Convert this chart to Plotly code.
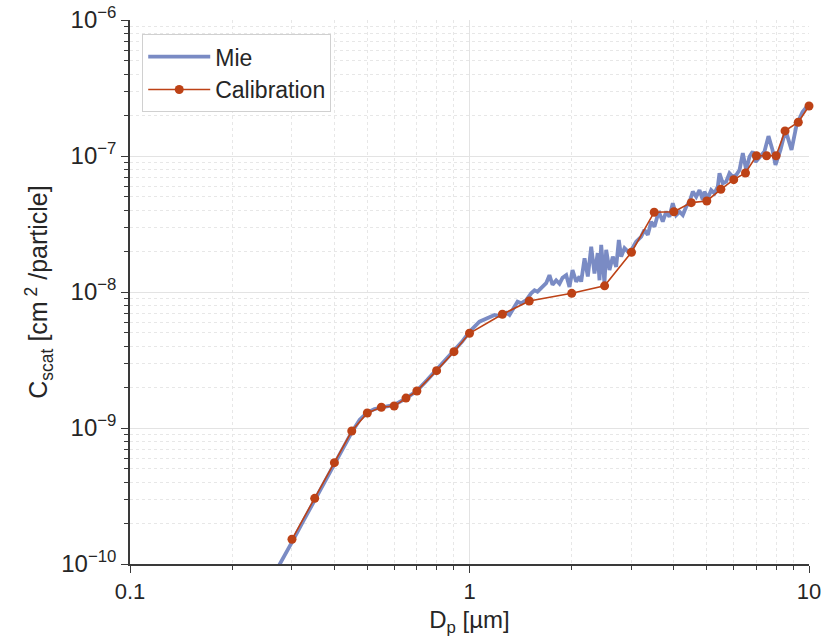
import plotly.graph_objects as go

# ---- Data ----
mie_d = [0.26, 0.28, 0.30, 0.325, 0.35, 0.375, 0.40, 0.425, 0.45, 0.475, 0.50, 0.525,
         0.55, 0.575, 0.60, 0.65, 0.70, 0.75, 0.80, 0.85, 0.90, 0.95, 1.00,
         1.070, 1.145, 1.185, 1.226, 1.282, 1.311, 1.357, 1.385, 1.420, 1.469, 1.519,
         1.554, 1.586, 1.641, 1.682, 1.720, 1.756, 1.800, 1.841, 1.879, 1.927, 1.970,
         2.011, 2.062, 2.109, 2.133, 2.182, 2.231, 2.283, 2.334, 2.386, 2.415, 2.443,
         2.498, 2.527, 2.584, 2.643, 2.704, 2.753, 2.798, 2.861, 2.960, 3.027, 3.097,
         3.204, 3.277, 3.351, 3.429, 3.506, 3.585, 3.627, 3.709, 3.795, 3.881, 3.970,
         4.062, 4.155, 4.249, 4.348, 4.446, 4.547, 4.653, 4.759, 4.866, 4.922, 5.034,
         5.151, 5.268, 5.386, 5.449, 5.573, 5.702, 5.833, 5.965, 6.104, 6.242, 6.383,
         6.531, 6.679, 6.830, 6.956, 7.147, 7.394, 7.597, 7.806, 7.967, 8.243, 8.528,
         8.882, 9.189, 9.570, 10.0]
mie_c = [7.6e-11, 1.05e-10, 1.45e-10, 2.1e-10, 2.95e-10, 4.0e-10, 5.4e-10, 7.1e-10,
         9.3e-10, 1.15e-9, 1.3e-9, 1.38e-9, 1.42e-9, 1.45e-9, 1.48e-9, 1.65e-9, 1.88e-9,
         2.25e-9, 2.7e-9, 3.2e-9, 3.7e-9, 4.3e-9, 5.1e-9,
         6.05e-9, 6.52e-9, 6.78e-9, 6.66e-9, 7.04e-9, 6.78e-9, 7.80e-9, 8.49e-9, 8.26e-9,
         8.73e-9, 9.78e-9, 1.03e-8, 1.005e-8, 1.09e-8, 1.16e-8, 1.33e-8, 1.13e-8, 1.22e-8,
         1.15e-8, 1.27e-8, 1.33e-8, 1.09e-8, 1.45e-8, 1.19e-8, 1.30e-8, 1.19e-8, 1.77e-8,
         1.30e-8, 2.15e-8, 1.37e-8, 1.93e-8, 1.22e-8, 2.22e-8, 1.16e-8, 2.04e-8, 1.45e-8,
         1.82e-8, 1.53e-8, 2.41e-8, 1.82e-8, 2.10e-8, 1.93e-8, 2.10e-8, 2.34e-8, 2.55e-8,
         2.86e-8, 2.63e-8, 3.29e-8, 3.02e-8, 3.68e-8, 3.79e-8, 3.29e-8, 3.89e-8, 3.58e-8,
         4.49e-8, 3.68e-8, 3.89e-8, 3.68e-8, 4.24e-8, 4.61e-8, 5.47e-8, 5.02e-8, 5.62e-8,
         4.75e-8, 5.47e-8, 4.89e-8, 5.62e-8, 5.32e-8, 5.95e-8, 7.46e-8, 6.30e-8, 6.47e-8,
         7.46e-8, 7.04e-8, 7.25e-8, 7.89e-8, 1.05e-7, 7.89e-8, 9.88e-8, 1.08e-7, 9.03e-8,
         9.83e-8, 1.08e-7, 1.40e-7, 1.11e-7, 8.59e-8, 1.11e-7, 1.55e-7, 1.11e-7, 1.69e-7,
         2.11e-7, 2.41e-7]

cal_d = [0.3, 0.35, 0.4, 0.45, 0.5, 0.55, 0.6, 0.65, 0.7, 0.8, 0.9, 1.0, 1.25, 1.5,
         2.0, 2.5, 3.0, 3.5, 4.0, 4.5, 5.0, 5.5, 6.0, 6.5, 7.0, 7.5, 8.0, 8.5, 9.3, 10.0]
cal_c = [1.52e-10, 3.04e-10, 5.56e-10, 9.5e-10, 1.29e-9, 1.42e-9, 1.45e-9, 1.66e-9,
         1.87e-9, 2.64e-9, 3.64e-9, 4.97e-9, 6.86e-9, 8.59e-9, 9.78e-9, 1.11e-8,
         1.96e-8, 3.86e-8, 3.89e-8, 4.54e-8, 4.67e-8, 5.69e-8, 6.70e-8, 7.50e-8,
         1.005e-7, 1.005e-7, 1.005e-7, 1.53e-7, 1.77e-7, 2.33e-7]

x_tickvals = [0.1, 1, 10]
x_ticktext = ["0.1", "1", "10"]
y_tickvals = [1e-10, 1e-9, 1e-8, 1e-7, 1e-6]
y_ticktext = ["10<sup>−10</sup>", "10<sup>−9</sup>", "10<sup>−8</sup>",
              "10<sup>−7</sup>", "10<sup>−6</sup>"]

assert len(mie_d) == len(mie_c) and len(cal_d) == len(cal_c)

FONT = "Liberation Sans, Arial, sans-serif"
AXIS_COL = "#3a3a3a"
MAJ_GRID = "#e3e3e3"
MIN_GRID = "#e7e7e7"

x_minor = [m * 10 ** e for e in (-1, 0) for m in range(2, 10)]
y_minor = [m * 10.0 ** e for e in (-10, -9, -8, -7) for m in range(2, 10)]

fig = go.Figure()
fig.add_trace(go.Scatter(
    x=mie_d, y=mie_c, mode="lines", name="Mie",
    line=dict(color="rgb(122,139,196)", width=3.8),
))
fig.add_trace(go.Scatter(
    x=cal_d, y=cal_c, mode="lines+markers", name="Calibration",
    line=dict(color="#bd4216", width=1.6),
    marker=dict(color="#bd4216", size=9),
    cliponaxis=False,
))

fig.update_layout(
    width=827, height=639,
    margin=dict(l=130, r=18, t=20, b=75),
    paper_bgcolor="white", plot_bgcolor="white",
    font=dict(family=FONT, size=22, color="#262626"),
    showlegend=True,
    legend=dict(
        x=0.018, y=0.974, xanchor="left", yanchor="top",
        bgcolor="white", bordercolor="#d0d0d0", borderwidth=1,
        font=dict(size=23, color="#262626"),
        itemwidth=62, tracegroupgap=0,
    ),
    xaxis=dict(
        type="log", range=[-1, 1], automargin=False,
        tickmode="array", tickvals=x_tickvals, ticktext=x_ticktext,
        ticks="outside", ticklen=7, tickwidth=1.2, tickcolor=AXIS_COL,
        showline=True, linecolor=AXIS_COL, linewidth=1.6, mirror=False,
        showgrid=True, gridcolor=MAJ_GRID, gridwidth=1,
        zeroline=False, ticklabeloverflow="allow",
        tickfont=dict(size=22),
        title=dict(text="D<sub>p</sub> [µm]", font=dict(size=24), standoff=8),
        minor=dict(tickmode="array", tickvals=x_minor, ticks="outside", ticklen=4,
                   tickcolor=AXIS_COL, showgrid=True, gridcolor=MIN_GRID,
                   griddash="dot", gridwidth=1),
    ),
    yaxis=dict(
        type="log", range=[-10, -6], automargin=False,
        tickmode="array", tickvals=y_tickvals, ticktext=y_ticktext,
        ticks="outside", ticklen=7, tickwidth=1.2, tickcolor=AXIS_COL,
        showline=True, linecolor=AXIS_COL, linewidth=1.6, mirror=False,
        showgrid=True, gridcolor=MAJ_GRID, gridwidth=1,
        zeroline=False, ticklabeloverflow="allow",
        tickfont=dict(size=24),
        title=dict(text="C<sub>scat</sub> [cm<sup> 2</sup> /particle]", font=dict(size=25),
                   standoff=6),
        minor=dict(tickmode="array", tickvals=y_minor, ticks="outside", ticklen=4,
                   tickcolor=AXIS_COL, showgrid=True, gridcolor=MIN_GRID,
                   griddash="dot", gridwidth=1),
    ),
)

fig.write_html(
    "out.html",
    config={"displayModeBar": False},
    post_script="document.body.style.margin='0';document.body.style.overflow='hidden';",
)
